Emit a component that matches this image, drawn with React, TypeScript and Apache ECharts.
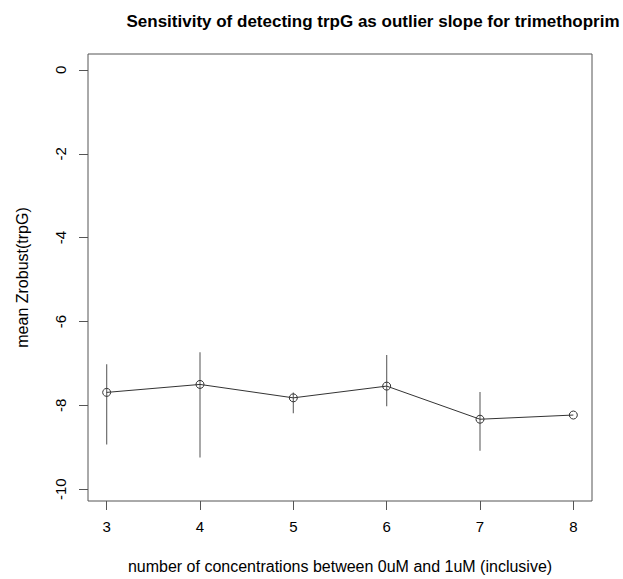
import React, { useEffect, useRef } from "react";
import * as echarts from "echarts";

const concentrations = [3, 4, 5, 6, 7, 8];
const meanZ = [-7.69, -7.5, -7.82, -7.54, -8.33, -8.23];
const barHigh = [-7.02, -6.73, -7.69, -6.8, -7.68, -8.23];
const barLow = [-8.93, -9.24, -8.19, -8.02, -9.08, -8.23];
const yTicks = [0, -2, -4, -6, -8, -10];
const xTicks = [3, 4, 5, 6, 7, 8];

const FONT = "'Liberation Sans', Arial, Helvetica, sans-serif";

export default function App() {
  const ref = useRef<HTMLDivElement>(null);
  useEffect(() => {
    if (!ref.current) return;
    const chart = echarts.init(ref.current, null, { renderer: "svg" });
    const errData = concentrations.map((c, i) => [c, barLow[i], barHigh[i]]);
    chart.setOption({
      animation: false,
      backgroundColor: "#ffffff",
      title: {
        text: "Sensitivity of detecting trpG as outlier slope for trimethoprim",
        left: 368,
        top: 8,
        textAlign: "center",
        textStyle: { fontFamily: FONT, fontSize: 17, fontWeight: "bold", color: "#000" },
      },
      grid: { left: 88, right: 31, top: 54, bottom: 77, show: true, borderColor: "#555", borderWidth: 1, backgroundColor: "transparent" },
      xAxis: {
        type: "value",
        min: 2.8,
        max: 8.2,
        name: "number of concentrations between 0uM and 1uM (inclusive)",
        nameLocation: "middle",
        nameGap: 57,
        nameTextStyle: { fontFamily: FONT, fontSize: 16, color: "#000" },
        axisLine: { show: false, onZero: false },
        axisTick: { show: true, length: 9, customValues: xTicks, lineStyle: { color: "#555" } },
        axisLabel: { customValues: xTicks, margin: 18, fontFamily: FONT, fontSize: 15, color: "#000" },
        splitLine: { show: false },
      },
      yAxis: {
        type: "value",
        min: -10.28,
        max: 0.38,
        name: "mean Zrobust(trpG)",
        nameLocation: "middle",
        nameGap: 58,
        nameRotate: 90,
        nameTextStyle: { fontFamily: FONT, fontSize: 16, color: "#000" },
        axisLine: { show: false, onZero: false },
        axisTick: { show: true, length: 9, customValues: yTicks, lineStyle: { color: "#555" } },
        axisLabel: { customValues: yTicks, rotate: 90, margin: 20, fontFamily: FONT, fontSize: 15, color: "#000" },
        splitLine: { show: false },
      },
      series: [
        {
          type: "custom",
          data: errData,
          renderItem: (params: any, api: any) => {
            const x = api.value(0);
            const p1 = api.coord([x, api.value(1)]);
            const p2 = api.coord([x, api.value(2)]);
            return {
              type: "line",
              shape: { x1: p1[0], y1: p1[1], x2: p2[0], y2: p2[1] },
              style: { stroke: "#6e6e6e", lineWidth: 1.2 },
            };
          },
          z: 1,
        },
        {
          type: "line",
          data: concentrations.map((c, i) => [c, meanZ[i]]),
          symbol: "circle",
          symbolSize: 8,
          lineStyle: { color: "#333", width: 1 },
          itemStyle: { color: "rgba(0,0,0,0)", borderColor: "#333", borderWidth: 1 },
          emphasis: { disabled: true },
          z: 2,
        },
      ],
    });
    return () => chart.dispose();
  }, []);
  return <div ref={ref} style={{ position: "absolute", left: 0, top: 0, width: 623, height: 579 }} />;
}
